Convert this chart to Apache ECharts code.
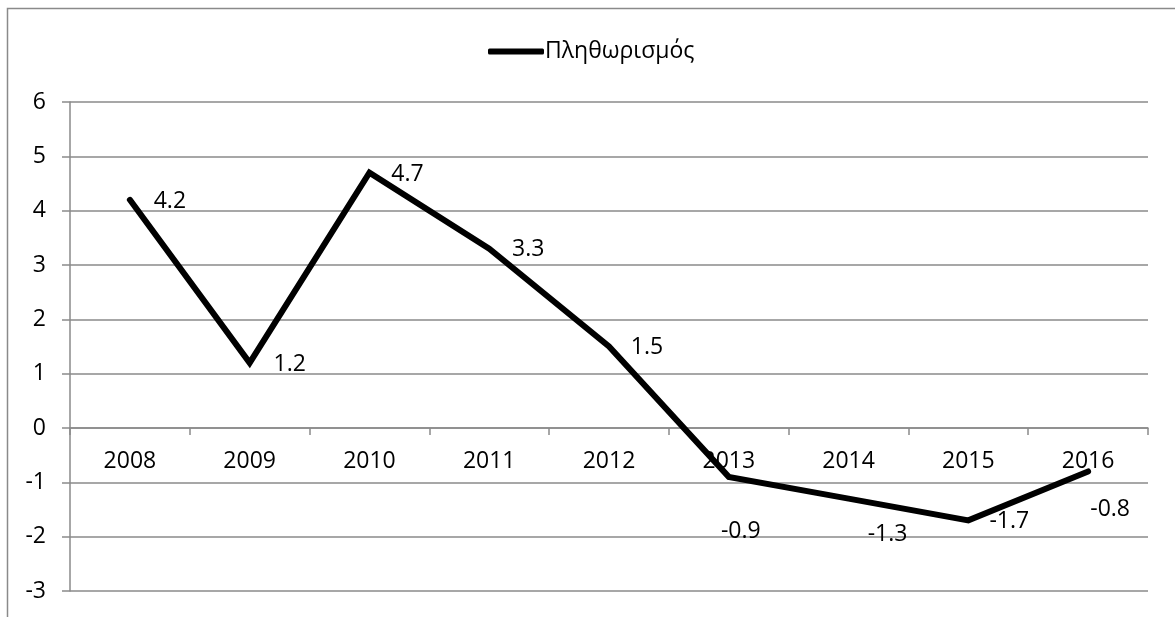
<!DOCTYPE html>
<html>
<head>
<meta charset="utf-8">
<script src="https://cdn.jsdelivr.net/npm/echarts@6/dist/echarts.min.js"></script>
<style>
  html, body { margin: 0; padding: 0; background: #ffffff; }
  #chart { width: 1175px; height: 617px; }
</style>
</head>
<body>
<div id="chart"></div>
<script>
// Annual inflation, 2008–2016
const years = ['2008', '2009', '2010', '2011', '2012', '2013', '2014', '2015', '2016'];
const inflation = [4.2, 1.2, 4.7, 3.3, 1.5, -0.9, -1.3, -1.7, -0.8];
const seriesName = 'Πληθωρισμός';
const yMin = -3, yMax = 6;

// Where each value label sits relative to its point (px)
const labelShift = [[40, 2], [40, 2], [38, 2], [39, 1], [38, 1], [12, 55], [39, 36], [41, 1], [22, 38]];

const FONT = '"Open Sans", "Noto Sans", sans-serif';
const GRAY = '#8a8a8a';
const FS = 23;
const GRID = { left: 70, right: 27, top: 102, bottom: 26 };
const plotH = 617 - GRID.top - GRID.bottom;

const chart = echarts.init(document.getElementById('chart'), null, { renderer: 'canvas' });

chart.setOption({
  animation: false,
  backgroundColor: '#ffffff',
  textStyle: { fontFamily: FONT },
  graphic: [{
    type: 'rect',
    shape: { x: 7.5, y: 8.5, width: 1300, height: 800 },
    style: { fill: 'none', stroke: GRAY, lineWidth: 1.5 },
    silent: true,
    z: -1
  }],
  legend: {
    top: 35,
    left: 483,
    itemWidth: 56,
    itemHeight: 6,
    itemGap: 4,
    icon: 'roundRect',
    textStyle: { fontFamily: FONT, fontSize: FS, color: '#000', padding: [0, 0, 0, -4] },
    data: [{ name: seriesName, itemStyle: { color: '#000', opacity: 1 } }]
  },
  grid: Object.assign({ containLabel: false, outerBoundsMode: 'none' }, GRID),
  xAxis: {
    type: 'category',
    data: years,
    boundaryGap: true,
    // category axis crosses the value axis at zero
    offset: -plotH * (0 - yMin) / (yMax - yMin),
    axisLine: { show: true, onZero: false, lineStyle: { color: GRAY, width: 1.5 } },
    axisTick: { show: true, inside: false, length: 7, alignWithLabel: false, lineStyle: { color: GRAY, width: 1.5 } },
    axisLabel: { margin: 22, fontFamily: FONT, fontSize: FS, color: '#000' },
    splitLine: { show: false }
  },
  yAxis: {
    type: 'value',
    min: yMin,
    max: yMax,
    interval: 1,
    axisLine: { show: true, onZero: false, lineStyle: { color: GRAY, width: 1.5 } },
    axisTick: { show: true, length: 8, lineStyle: { color: GRAY, width: 1.5 } },
    axisLabel: { margin: 24, fontFamily: FONT, fontSize: FS, color: '#000' },
    splitLine: { show: true, lineStyle: { color: GRAY, width: 1.5 } }
  },
  series: [{
    name: seriesName,
    type: 'line',
    data: inflation,
    symbol: 'circle',
    symbolSize: 1,
    showSymbol: true,
    itemStyle: { color: 'rgba(0,0,0,0)' },
    lineStyle: { color: '#000', width: 6, join: 'miter', cap: 'round' },
    label: {
      show: true,
      position: 'inside',
      fontFamily: FONT,
      fontSize: FS,
      color: '#000',
      formatter: p => String(p.value)
    },
    labelLayout: p => ({
      dx: labelShift[p.dataIndex][0],
      dy: labelShift[p.dataIndex][1],
      hideOverlap: false
    }),
    z: 5
  }]
});
</script>
</body>
</html>
